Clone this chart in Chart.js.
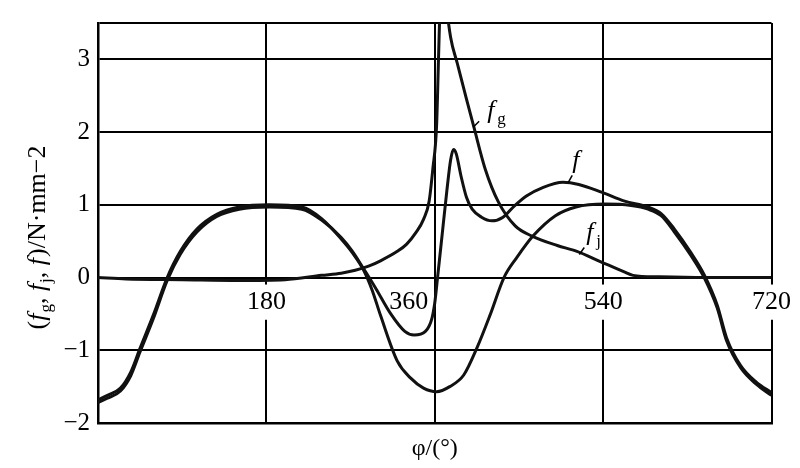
<!DOCTYPE html>
<html lang="zh">
<head>
<meta charset="UTF-8">
<title>f, fg, fj</title>
<script src="https://cdn.jsdelivr.net/npm/chart.js"></script>
<style>
    body { margin: 0; background: #fff; }
    #wrap { width: 800px; height: 468px; }
</style>
</head>
<body>
<div id="wrap"><canvas id="chart" width="800" height="468"></canvas></div>
<script>
// crank angle φ (deg) and force (N/mm²)
const fjPhi = [0, 10, 24, 35, 45, 59, 74, 88, 106, 127, 151, 183, 218, 239, 260, 272, 284, 293, 302, 320, 334, 348, 362, 376, 391, 405, 419, 434, 448, 465, 489, 511, 542, 570, 588, 602, 616, 634, 648, 662, 672, 687, 704, 720];
const fjVal = [-1.68, -1.62, -1.52, -1.3, -0.97, -0.52, 0, 0.36, 0.67, 0.87, 0.97, 1.0, 0.97, 0.81, 0.53, 0.34, 0.1, -0.17, -0.52, -1.15, -1.38, -1.52, -1.57, -1.5, -1.34, -0.97, -0.52, 0, 0.28, 0.57, 0.85, 0.97, 1.01, 0.99, 0.94, 0.85, 0.63, 0.3, 0, -0.42, -0.87, -1.24, -1.47, -1.62];

const fgPhi = [0, 30, 90, 150, 200, 239, 260, 275, 290, 302, 320, 330, 340, 348, 354, 358, 362, 364, 366, 368, 372, 377, 384, 394, 402, 414, 428, 446, 464, 491, 512, 537, 562, 572, 600, 650, 720];
const fgVal = [0, -0.02, -0.03, -0.04, -0.03, 0.03, 0.06, 0.1, 0.16, 0.23, 0.36, 0.46, 0.62, 0.8, 1.05, 1.5, 2.1, 3.0, 3.9, 4.4, 3.8, 3.3, 2.95, 2.45, 2.06, 1.49, 1.04, 0.71, 0.57, 0.44, 0.36, 0.22, 0.08, 0.03, 0.01, 0, 0];

const fPhi = [0, 10, 24, 35, 45, 59, 74, 88, 106, 127, 151, 183, 218, 239, 260, 272, 284, 297, 313, 328, 338, 350, 357, 360, 363, 368, 373, 377, 380, 383, 388, 394, 400, 410, 421, 433, 444, 458, 476, 497, 514, 539, 563, 588, 602, 616, 634, 648, 662, 672, 687, 704, 720];
const fVal = [-1.72, -1.66, -1.56, -1.35, -1.02, -0.57, -0.04, 0.32, 0.63, 0.84, 0.94, 0.97, 0.94, 0.79, 0.55, 0.36, 0.12, -0.15, -0.5, -0.74, -0.79, -0.74, -0.56, -0.35, 0, 0.6, 1.2, 1.62, 1.76, 1.7, 1.4, 1.1, 0.94, 0.83, 0.78, 0.83, 0.97, 1.12, 1.24, 1.31, 1.28, 1.17, 1.05, 0.97, 0.88, 0.67, 0.34, 0.04, -0.38, -0.83, -1.21, -1.44, -1.58];

const xLabels = { 180: '180', 360: '360\u2007\u2007\u2007\u2007', 540: '540', 720: '720' };
const yTitle = [['(', ''], ['f', 'i'], ['g', 's'], [', ', ''], ['f', 'i'], ['j', 's'], [', ', ''], ['f', 'i'], [')/N\u00b7mm\u22122', '']];

const SERIF = '"Liberation Serif", "DejaVu Serif", serif';

function pts(xs, ys) {
    return xs.map((p, i) => ({ x: p, y: ys[i] }));
}

function line(data) {
    return {
        data: data,
        borderColor: '#111',
        borderWidth: 3,
        pointRadius: 0,
        fill: false,
        cubicInterpolationMode: 'monotone'
    };
}

// rotated y-axis title and the curve names
const textPlugin = {
    id: 'texts',
    afterDraw(chart) {
        const { ctx, chartArea, scales } = chart;
        ctx.save();
        ctx.fillStyle = '#000';
        ctx.strokeStyle = '#000';
        ctx.textBaseline = 'alphabetic';

        const fontFor = k => k === 'i' ? 'italic 26px ' + SERIF : (k === 's' ? '17px ' + SERIF : '26px ' + SERIF);
        let total = 0;
        yTitle.forEach(([t, k]) => { ctx.font = fontFor(k); total += ctx.measureText(t).width; });
        ctx.translate(chartArea.left - 53, (chartArea.top + chartArea.bottom) / 2 + 16);
        ctx.rotate(-Math.PI / 2);
        let cx = -total / 2;
        yTitle.forEach(([t, k]) => {
            ctx.font = fontFor(k);
            ctx.fillText(t, cx, k === 's' ? 6 : 0);
            cx += ctx.measureText(t).width + (k === 'i' ? 1 : 0);
        });
        ctx.restore();

        const x = scales.x, y = scales.y;
        const label = (phi, v, sub, lead) => {
            const px = x.getPixelForValue(phi), py = y.getPixelForValue(v);
            ctx.save();
            ctx.fillStyle = '#000';
            ctx.font = 'italic 26px ' + SERIF;
            ctx.fillText('f', px, py);
            if (sub) {
                ctx.font = '17px ' + SERIF;
                ctx.fillText(sub, px + 10, py + 6);
            }
            ctx.lineWidth = 1.5;
            ctx.beginPath();
            ctx.moveTo(px + lead[0], py + lead[1]);
            ctx.lineTo(px + lead[2], py + lead[3]);
            ctx.stroke();
            ctx.restore();
        };
        label(416, 2.19, 'g', [-14, 9, -8, 3]);
        label(507, 1.5, '', [-4, 14, 0, 7]);
        label(522, 0.51, 'j', [-7, 14, -2, 7]);
    }
};

new Chart(document.getElementById('chart'), {
    type: 'line',
    data: {
        datasets: [
            line(pts(fjPhi, fjVal)),
            line(pts(fPhi, fVal)),
            line(pts(fgPhi, fgVal))
        ]
    },
    options: {
        responsive: false,
        animation: false,
        layout: { padding: { top: 21, right: 21, left: 0, bottom: 0 } },
        plugins: { legend: { display: false }, tooltip: { enabled: false } },
        scales: {
            x: {
                type: 'linear',
                min: 0,
                max: 720,
                ticks: { display: false, stepSize: 180 },
                grid: { color: '#000', lineWidth: 2, drawTicks: false },
                border: { color: '#000', width: 2.5 },
                title: {
                    display: true,
                    text: '\u03c6/(\u00b0)',
                    color: '#000',
                    font: { family: SERIF, size: 24 },
                    padding: { top: 0, bottom: 5 }
                },
                afterFit: s => { s.height = 45; }
            },
            x2: {
                type: 'linear',
                axis: 'x',
                position: { y: 0 },
                min: 0,
                max: 720,
                grid: { display: false, drawTicks: false },
                border: { display: false },
                ticks: {
                    stepSize: 180,
                    padding: 9,
                    color: '#000',
                    font: { family: SERIF, size: 26 },
                    callback: v => xLabels[v] || '',
                    showLabelBackdrop: c => c.tick.value !== 0 && c.tick.value !== 360,
                    backdropColor: '#fff',
                    backdropPadding: { x: 3, y: 2 }
                }
            },
            y: {
                min: -2,
                max: 3.5,
                ticks: {
                    stepSize: 1,
                    padding: 8,
                    color: '#000',
                    font: { family: SERIF, size: 25 },
                    callback: v => v === 3.5 ? '' : String(v).replace('-', '\u2212')
                },
                grid: { color: '#000', lineWidth: 2, drawTicks: false },
                border: { color: '#000', width: 2.5 },
                afterFit: s => { s.width = 98; }
            }
        }
    },
    plugins: [textPlugin]
});
</script>
</body>
</html>
